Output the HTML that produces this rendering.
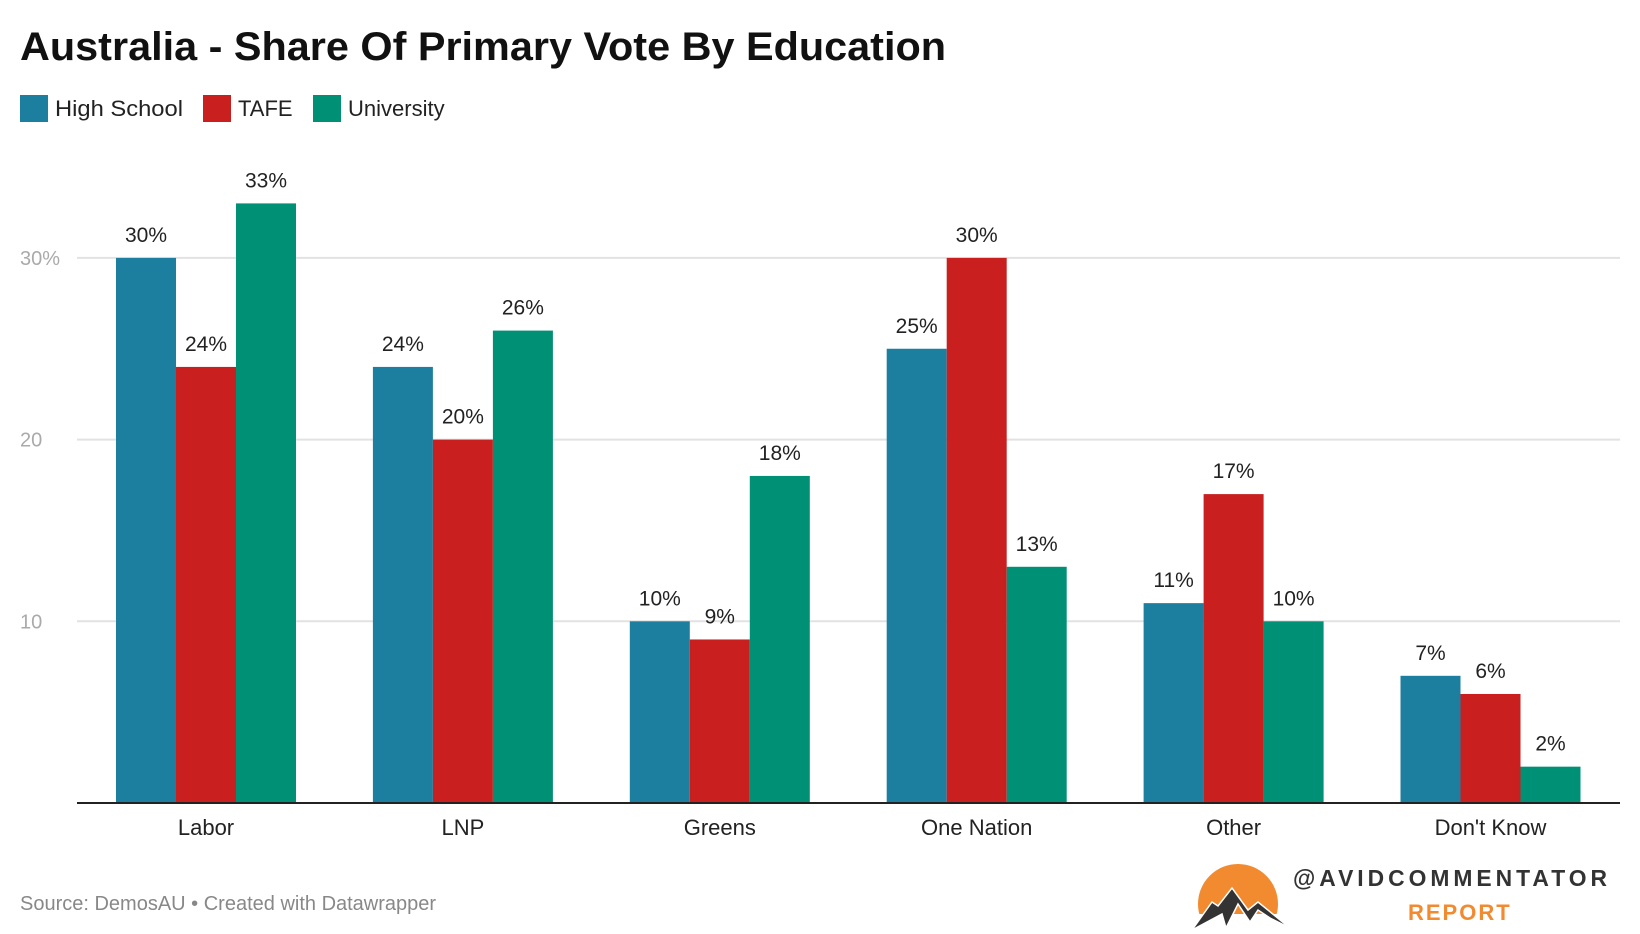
<!DOCTYPE html>
<html><head><meta charset="utf-8"><style>
html,body{margin:0;padding:0;background:#fff;}
svg{display:block;font-family:"Liberation Sans",Arial,sans-serif;}
</style></head><body>
<svg id="chart" width="1640" height="934" viewBox="0 0 1640 934">
<text x="20" y="60" font-size="40" font-weight="bold" fill="#111" textLength="926" lengthAdjust="spacingAndGlyphs">Australia - Share Of Primary Vote By Education</text>
<g>
<rect x="20" y="95" width="28" height="27" fill="#1d7fa0"/>
<text x="55" y="116" font-size="22" fill="#222" textLength="128" lengthAdjust="spacingAndGlyphs">High School</text>
<rect x="203" y="95" width="28" height="27" fill="#c91f1f"/>
<text x="238" y="116" font-size="22" fill="#222">TAFE</text>
<rect x="313" y="95" width="28" height="27" fill="#009076"/>
<text x="348" y="116" font-size="22" fill="#222">University</text>
</g>
<g id="grid"></g>
<g id="bars"></g>
<line x1="77" x2="1620" y1="803" y2="803" stroke="#222" stroke-width="2"/>
<text x="20" y="910" font-size="20" fill="#888">Source: DemosAU • Created with Datawrapper</text>
<g>
<circle cx="1238" cy="904" r="40" fill="#f28a30"/>
<rect x="1190" y="914" width="100" height="20" fill="#fff"/>
<path d="M1192,930 L1212,902 L1218,906 L1232,888 L1248,910 L1258,902 L1290,928 L1270,918 L1258,910 L1250,922 L1238,904 L1226,928 L1222,914 Z" fill="#333" stroke="#fff" stroke-width="1.5"/>
<text x="1293" y="886" font-size="23" font-weight="bold" fill="#333" letter-spacing="4" textLength="318" lengthAdjust="spacingAndGlyphs">@AVIDCOMMENTATOR</text>
<text x="1408" y="920" font-size="22" font-weight="bold" fill="#f28a30" letter-spacing="2">REPORT</text>
</g>
</svg>
<script>
const categories = ["Labor","LNP","Greens","One Nation","Other","Don't Know"];
const seriesNames = ["High School","TAFE","University"];
const highSchool = [30,24,10,25,11,7];
const tafe = [24,20,9,30,17,6];
const university = [33,26,18,13,10,2];
const yTicks = [10,20,30];
const yTickLabels = ["10","20","30%"];

const series = [highSchool, tafe, university];
const colors = ["#1d7fa0","#c91f1f","#009076"];
const NS = "http://www.w3.org/2000/svg";
const y0 = 803, unit = 18.17;
function yScale(v){ return y0 - v*unit; }
const groupStart = 206, groupStep = 256.9, barW = 60;
function xCenter(i){ return groupStart + i*groupStep; }
function mk(tag, attrs, parent){
  const el = document.createElementNS(NS, tag);
  for (const k in attrs) el.setAttribute(k, attrs[k]);
  parent.appendChild(el);
  return el;
}
const grid = document.getElementById('grid');
yTicks.forEach((t, i) => {
  const ln = mk('line', {x1:77, x2:1620, y1:yScale(t), y2:yScale(t), stroke:'#e2e2e2', 'stroke-width':2}, grid);
  
  
  const tx = mk('text', {x:20, y:yScale(t)+7, 'font-size':20, fill:'#aaa'}, grid);
  tx.textContent = yTickLabels[i];
  
  
});
const bars = document.getElementById('bars');
categories.forEach((c, i) => {
  const cx = xCenter(i);
  series.forEach((s, j) => {
    const x = cx - 1.5*barW + j*barW;
    const r = mk('rect', {x:x, y:yScale(s[i]), width:barW, height:s[i]*unit, fill:colors[j]}, bars);
    
    
    const v = mk('text', {x:x+barW/2, y:yScale(s[i])-16, 'font-size':21, fill:'#222', 'text-anchor':'middle'}, bars);
    v.textContent = s[i] + '%';
    
    
  });
  const lab = mk('text', {x:cx, y:835, 'font-size':22, fill:'#222', 'text-anchor':'middle'}, bars);
  lab.textContent = c;
  
  
});
</script>
</body></html>
